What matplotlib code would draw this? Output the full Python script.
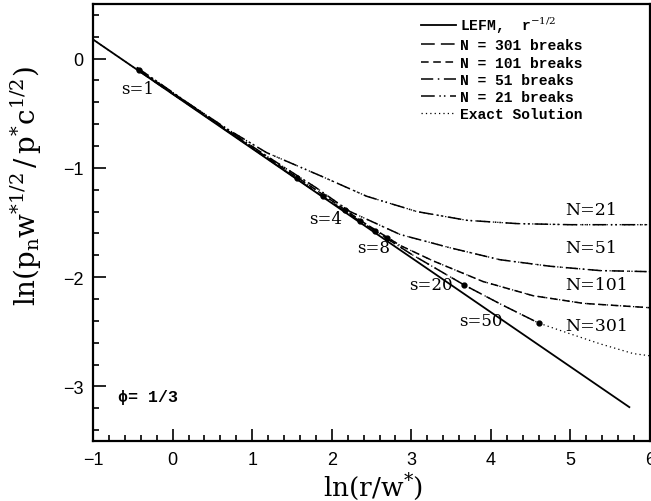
import matplotlib
matplotlib.use("Agg")
import matplotlib.pyplot as plt

plt.rcParams['mathtext.fontset'] = 'dejavuserif'

# LEFM asymptote, r^{-1/2}
lefm_x = [-1.0, 5.74]
lefm_y = [0.175, -3.19]

# discrete-break solutions
n21_x = [-0.45, 0.2, 0.7, 1.18, 1.85, 2.44, 3.07, 3.70, 4.33, 5.0, 6.0]
n21_y = [-0.08, -0.41, -0.65, -0.86, -1.07, -1.26, -1.40, -1.48, -1.51, -1.52, -1.52]

n51_x = [-0.45, 0.5, 1.2, 1.8, 2.23, 2.86, 3.48, 4.11, 4.74, 5.37, 6.0]
n51_y = [-0.09, -0.56, -0.90, -1.18, -1.40, -1.61, -1.73, -1.84, -1.90, -1.94, -1.95]

n101_x = [-0.45, 0.5, 1.2, 1.8, 2.4, 2.86, 3.27, 3.90, 4.53, 5.16, 6.0]
n101_y = [-0.095, -0.565, -0.91, -1.20, -1.50, -1.71, -1.85, -2.04, -2.17, -2.24, -2.28]

n301_x = [-0.45, 0.5, 1.2, 1.8, 2.4, 3.0, 3.66, 4.13, 4.60]
n301_y = [-0.10, -0.57, -0.92, -1.22, -1.51, -1.79, -2.07, -2.25, -2.42]

# exact solution (dotted)
exact_x = [-1.0, -0.45, 0.5, 1.2, 1.8, 2.4, 3.0, 3.66, 4.13, 4.60, 4.96, 5.37, 5.79, 6.0]
exact_y = [0.175, -0.10, -0.57, -0.92, -1.22, -1.51, -1.79, -2.07, -2.25, -2.42, -2.51, -2.61, -2.70, -2.72]

# break points marked with dots
dot_x = [-0.42, 1.56, 1.89, 2.16, 2.36, 2.54, 2.70, 3.66, 4.60]
dot_y = [-0.10, -1.09, -1.26, -1.39, -1.49, -1.58, -1.64, -2.07, -2.42]

s_labels = ["s=1", "s=4", "s=8", "s=20", "s=50"]
s_pos_x = [-0.65, 1.72, 2.32, 2.97, 3.60]
s_pos_y = [-0.27, -1.46, -1.73, -2.07, -2.40]

n_labels = ["N=21", "N=51", "N=101", "N=301"]
n_pos_y = [-1.385, -1.725, -2.07, -2.44]

fig = plt.figure(figsize=(6.51, 5.02), dpi=100)
ax = fig.add_axes([0.143, 0.1195, 0.8555, 0.8705])

lw = 1.1
ax.plot(lefm_x, lefm_y, color='black', lw=1.3, label=r'LEFM,  r$^{-1/2}$')
ax.plot(n301_x, n301_y, color='black', lw=lw, dashes=(9, 4), label='N = 301 breaks')
ax.plot(n101_x, n101_y, color='black', lw=lw, dashes=(5, 3), label='N = 101 breaks')
ax.plot(n51_x, n51_y, color='black', lw=lw, dashes=(8, 3, 1, 3), label='N = 51 breaks')
ax.plot(n21_x, n21_y, color='black', lw=lw, dashes=(9, 3, 1, 2, 1, 3), label='N = 21 breaks')
ax.plot(exact_x, exact_y, color='black', lw=0.9, dashes=(1, 2.5), label='Exact Solution')
# dotted exact curves running along the other solutions
for xs, ys in [(n21_x, n21_y), (n51_x, n51_y), (n101_x, n101_y)]:
    ax.plot(xs, ys, color='black', lw=0.9, dashes=(1, 2.5))

ax.plot(dot_x, dot_y, 'o', color='black', markersize=3.5)

for txt, sx, sy in zip(s_labels, s_pos_x, s_pos_y):
    ax.text(sx, sy, txt, fontsize=12, family='DejaVu Serif', ha='left', va='center')
for txt, ny in zip(n_labels, n_pos_y):
    ax.text(4.93, ny, txt, fontsize=12.5, family='DejaVu Serif', ha='left', va='center')

ax.text(-0.69, -3.09, 'ϕ= 1/3', fontsize=12, family=['Liberation Mono', 'DejaVu Sans Mono'],
        fontweight='bold', ha='left', va='center')

ax.set_xlim(-1, 6)
ax.set_ylim(-3.5, 0.5)
ax.set_xticks([-1, 0, 1, 2, 3, 4, 5, 6])
ax.set_yticks([-3, -2, -1, 0])
ax.set_xticks([i / 5 for i in range(-5, 31)], minor=True)
ax.set_yticks([i / 5 for i in range(-17, 3)], minor=True)
ax.tick_params(which='both', direction='in', top=False, right=False, width=1.2,
               labelsize=13, pad=7)
ax.tick_params(which='major', length=9)
ax.tick_params(which='minor', length=4.5)
for lab in ax.get_xticklabels() + ax.get_yticklabels():
    lab.set_family('Liberation Sans')
for sp in ax.spines.values():
    sp.set_linewidth(1.6)

ax.set_xlabel(r'$\mathrm{ln(r/w^{*})}$', fontsize=19)
ax.set_ylabel(r'$\mathrm{ln(p_n w^{*1/2}\,/\,p^{*}c^{1/2})}$', fontsize=20)
ax.xaxis.set_label_coords(0.503, -0.066)
ax.yaxis.set_label_coords(-0.088, 0.585)

leg = ax.legend(loc='upper left', bbox_to_anchor=(0.565, 1.005), frameon=False,
                handlelength=2.4, handletextpad=0.3, labelspacing=0.22,
                prop={'family': 'Liberation Mono', 'weight': 'bold', 'size': 10.5})

fig.savefig('out.png', dpi=100)
